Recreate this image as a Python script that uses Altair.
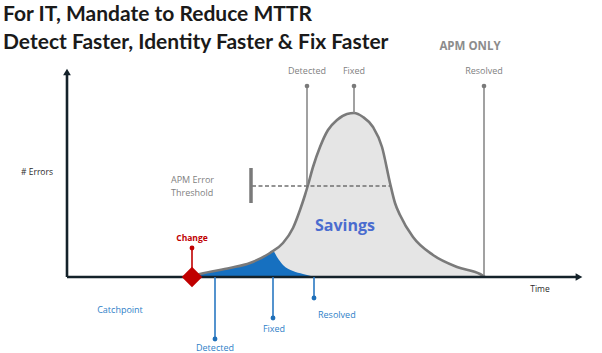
import altair as alt
import pandas as pd

# ---- data (time units from the origin, error counts above baseline) ----
# APM-only incident curve (# errors over time)
curve_t = [123, 133, 163, 183, 203, 216, 226, 233, 238, 241, 246, 253, 261, 270,
           280, 287, 296, 306, 315, 323, 328, 333, 346, 366, 390, 413, 418]
curve_e = [0, 3, 9, 14, 24, 34, 49, 67, 82, 92, 110, 130, 147, 157,
           163, 164, 160, 150, 130, 94, 74, 62, 40, 22, 10, 3, 0]

# Catchpoint incident area (blue)
blue_t = [123, 133, 163, 183, 203, 206, 210, 216, 226, 236, 248]
blue_e = [0, 3, 9, 14, 24, 26, 20, 12, 6, 3, 0]

# APM-only milestones (top)
apm_labels = ["Detected", "Fixed", "Resolved"]
apm_t = [240, 287, 417]
apm_e_low = [92, 164, 0]
apm_e_top = 191
apm_label_e = 206

# Catchpoint milestones (below axis)
cp_labels = ["Detected", "Fixed", "Resolved"]
cp_t = [148, 206, 247]
cp_e_end = [-62, -41, -21]
cp_label_t = [148, 207, 251]
cp_label_e = [-71, -52, -38]

# Change event
change_t = 125
change_e_top = 29
change_label_e = 39

# APM error threshold
thr_e = 91
thr_bar_t = 184
thr_bar_e = [74, 109]
thr_end_t = 323

# Axis extents
x_axis_end = 510
y_axis_end = 203

title_lines = ["For IT, Mandate to Reduce MTTR",
               "Detect Faster, Identity Faster & Fix Faster"]

# ---- scales ----
xs = alt.Scale(domain=[-67, 535], nice=False, zero=False)
ys = alt.Scale(domain=[-76, 277], nice=False, zero=False)

def X(field="t"):
    return alt.X(f"{field}:Q", scale=xs, axis=None)

def Y(field="e"):
    return alt.Y(f"{field}:Q", scale=ys, axis=None)

curve_df = pd.DataFrame({"t": curve_t, "e": curve_e})
blue_df = pd.DataFrame({"t": blue_t, "e": blue_e})

gray_area = alt.Chart(curve_df).mark_area(color="#e5e5e5", interpolate="monotone").encode(
    x=X(), y=Y(), y2=alt.datum(0))
blue_area = alt.Chart(blue_df).mark_area(color="#1670c0", interpolate="monotone").encode(
    x=X(), y=Y(), y2=alt.datum(0))
curve_line = alt.Chart(curve_df).mark_line(color="#7a7a7a", strokeWidth=2.6,
                                           interpolate="monotone").encode(x=X(), y=Y())

# axes
axes_df = pd.DataFrame({"t": [0, 0], "e": [0, 0], "t2": [0, x_axis_end], "e2": [y_axis_end, 0]})
axes = alt.Chart(axes_df).mark_rule(color="#14222a", strokeWidth=2.6).encode(
    x=X(), y=Y(), x2="t2:Q", y2="e2:Q")
arrow_up = alt.Chart(pd.DataFrame({"t": [0], "e": [y_axis_end + 2]})).mark_point(
    shape="triangle-up", filled=True, color="#14222a", size=60, opacity=1).encode(x=X(), y=Y())
arrow_right = alt.Chart(pd.DataFrame({"t": [x_axis_end + 2], "e": [0]})).mark_point(
    shape="triangle-right", filled=True, color="#14222a", size=60, opacity=1).encode(x=X(), y=Y())

# APM only milestones
apm_df = pd.DataFrame({"label": apm_labels, "t": apm_t, "e": apm_e_low,
                       "top": [apm_e_top] * 3, "le": [apm_label_e] * 3})
apm_rules = alt.Chart(apm_df).mark_rule(color="#8a8a8a", strokeWidth=1.6).encode(
    x=X(), y=Y(), y2="top:Q")
apm_dots = alt.Chart(apm_df).mark_circle(color="#7a7a7a", size=22, opacity=1).encode(
    x=X(), y=Y("top"))
apm_text = alt.Chart(apm_df).mark_text(font="Open Sans", fontSize=9, color="#7f7f7f",
                                       baseline="middle").encode(
    x=X(), y=Y("le"), text="label:N")
apm_only = alt.Chart(pd.DataFrame({"t": [403], "e": [230], "s": ["APM ONLY"]})).mark_text(
    font="Open Sans", fontSize=11.5, fontWeight="bold", color="#8c8c8c", baseline="middle").encode(
    x=X(), y=Y(), text="s:N")

# threshold
thr_bar = alt.Chart(pd.DataFrame({"t": [thr_bar_t], "e": [thr_bar_e[0]], "e2": [thr_bar_e[1]]})).mark_rule(
    color="#7a7a7a", strokeWidth=3.5).encode(x=X(), y=Y(), y2="e2:Q")
thr_line = alt.Chart(pd.DataFrame({"t": [thr_bar_t + 1], "t2": [thr_end_t], "e": [thr_e]})).mark_rule(
    color="#707070", strokeWidth=1.3, strokeDash=[4, 2.5]).encode(x=X(), x2="t2:Q", y=Y())
thr_text = alt.Chart(pd.DataFrame({"t": [104, 104], "e": [97, 84],
                                   "s": ["APM Error", "Threshold"]})).mark_text(
    font="Open Sans", fontSize=9, color="#7f7f7f", align="left", baseline="middle").encode(
    x=X(), y=Y(), text="s:N")

savings = alt.Chart(pd.DataFrame({"t": [278], "e": [51], "s": ["Savings"]})).mark_text(
    font="Open Sans", fontSize=16, fontWeight="bold", color="#4a6ccf", baseline="middle").encode(
    x=X(), y=Y(), text="s:N")

# Catchpoint milestones
cp_df = pd.DataFrame({"label": cp_labels, "t": cp_t, "e": [0] * 3, "end": cp_e_end,
                      "lt": cp_label_t, "le": cp_label_e})
cp_rules = alt.Chart(cp_df).mark_rule(color="#2a78c2", strokeWidth=1.6).encode(
    x=X(), y=Y(), y2="end:Q")
cp_dots = alt.Chart(cp_df).mark_circle(color="#1f6fb8", size=24, opacity=1).encode(
    x=X(), y=Y("end"))
cp_text_c = alt.Chart(cp_df.iloc[:2]).mark_text(font="Open Sans", fontSize=9, color="#2f7fc8",
                                                baseline="middle").encode(
    x=X("lt"), y=Y("le"), text="label:N")
cp_text_l = alt.Chart(cp_df.iloc[2:]).mark_text(font="Open Sans", fontSize=9, color="#2f7fc8",
                                                align="left", baseline="middle").encode(
    x=X("lt"), y=Y("le"), text="label:N")

# Change
ch_df = pd.DataFrame({"t": [change_t], "e": [0], "top": [change_e_top], "le": [change_label_e],
                      "s": ["Change"]})
ch_rule = alt.Chart(ch_df).mark_rule(color="#c00000", strokeWidth=1.6).encode(
    x=X(), y=Y(), y2="top:Q")
ch_dot = alt.Chart(ch_df).mark_circle(color="#c00000", size=24, opacity=1).encode(x=X(), y=Y("top"))
ch_diamond = alt.Chart(ch_df).mark_point(shape="diamond", filled=True, color="#c00000",
                                         size=420, opacity=1).encode(x=X(), y=Y())
ch_text = alt.Chart(ch_df).mark_text(font="Open Sans", fontSize=8.5, fontWeight="bold",
                                     color="#c00000", baseline="middle").encode(
    x=X(), y=Y("le"), text="s:N")

# Axis labels and other text
misc = alt.Chart(pd.DataFrame({"t": [-30, 473], "e": [105, -12], "s": ["# Errors", "Time"]})).mark_text(
    font="Open Sans", fontSize=8.5, color="#2a2a2a", baseline="middle").encode(
    x=X(), y=Y(), text="s:N")
catch = alt.Chart(pd.DataFrame({"t": [53], "e": [-33], "s": ["Catchpoint"]})).mark_text(
    font="Open Sans", fontSize=9, color="#2f7fc8", baseline="middle").encode(
    x=X(), y=Y(), text="s:N")

title = alt.Chart(pd.DataFrame({"t": [-64, -64], "e": [256, 228], "s": title_lines})).mark_text(
    font="Lato", fontSize=21, fontWeight="bold", color="#1a1a1a", align="left",
    baseline="alphabetic").encode(x=X(), y=Y(), text="s:N")

chart = alt.layer(
    gray_area, blue_area, curve_line,
    thr_line, thr_bar, thr_text,
    apm_rules, apm_dots, apm_text, apm_only,
    axes, arrow_up, arrow_right,
    cp_rules, cp_dots, cp_text_c, cp_text_l,
    ch_rule, ch_dot, ch_diamond, ch_text,
    savings, misc, catch, title,
).properties(
    width=602, height=353, padding=0, autosize=alt.AutoSizeParams(type="none"),
).configure_view(stroke=None)

chart.save("out.html", embed_options={"renderer": "svg", "actions": False})
